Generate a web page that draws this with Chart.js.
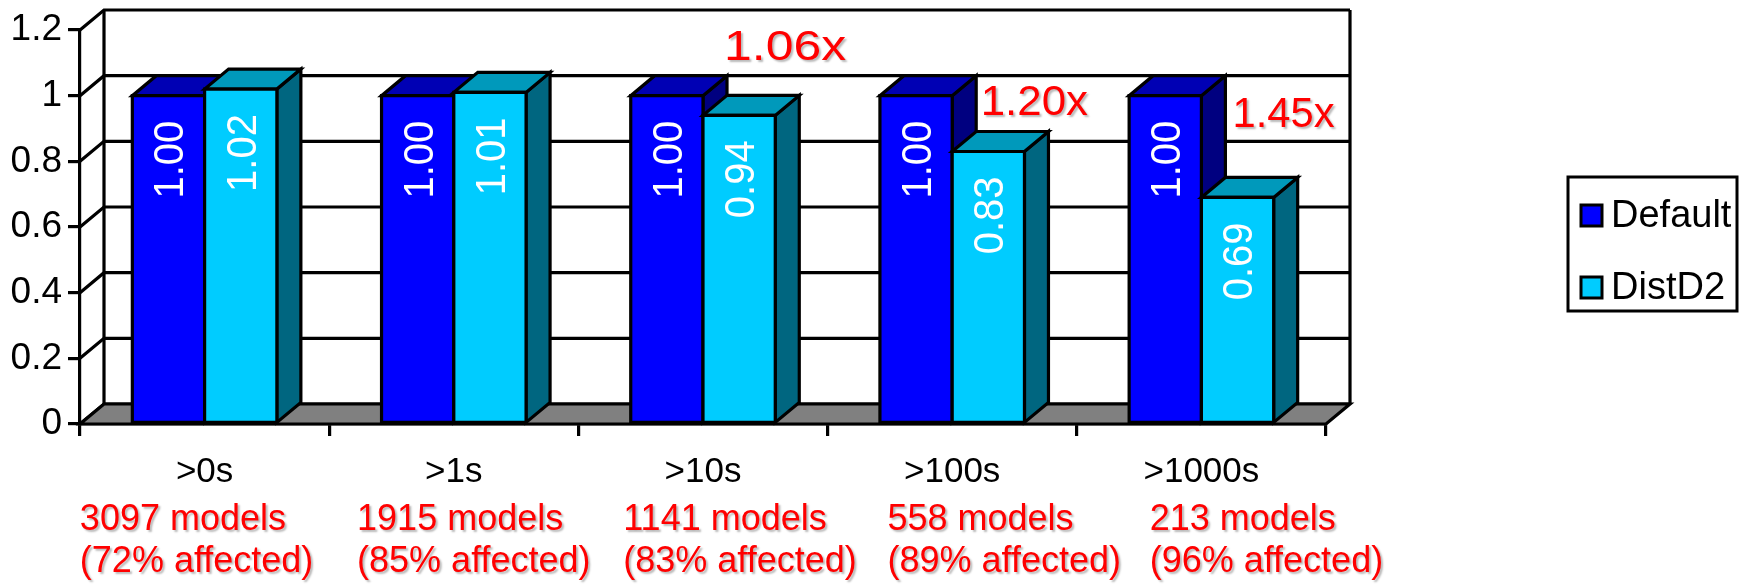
<!DOCTYPE html>
<html>
<head>
<meta charset="utf-8">
<title>DistD2 vs Default</title>
<script src="https://cdn.jsdelivr.net/npm/chart.js@4.4.0/dist/chart.umd.min.js"></script>
<style>
    html, body { margin: 0; padding: 0; background: #fff; }
    #wrap { width: 1743px; height: 585px; }
</style>
</head>
<body>
<div id="wrap"><canvas id="chart" width="1743" height="585"></canvas></div>
<script>
const categories = ['>0s', '>1s', '>10s', '>100s', '>1000s'];
const modelCounts = [3097, 1915, 1141, 558, 213];
const affectedPct = [72, 85, 83, 89, 96];
const defaultTimes = [1.00, 1.00, 1.00, 1.00, 1.00];
const distD2Times = [1.02, 1.01, 0.94, 0.83, 0.69];
const speedupNotes = [null, null, '1.06x', '1.20x', '1.45x'];
const yTicks = [0, 0.2, 0.4, 0.6, 0.8, 1, 1.2];

const FONT = '"Liberation Sans", Arial, sans-serif';
const DX = 24, DY = -20;            // depth offset of the 3d box
const noteLevel = [null, null, 1.108, 0.94, 0.904];   // baseline of the speedup text, in axis units
const noteStretch = [1, 1, 1.16, 1.02, 0.97];
const subShift = [-8, 20, 37, 52, 65];                // nudge of the red text under each group

function face(ctx, pts, fill) {
    ctx.beginPath();
    ctx.moveTo(pts[0][0], pts[0][1]);
    for (let i = 1; i < pts.length; i++) ctx.lineTo(pts[i][0], pts[i][1]);
    ctx.closePath();
    ctx.fillStyle = fill;
    ctx.fill();
    ctx.stroke();
}

function redShadow(ctx) {
    ctx.shadowColor = 'rgba(0,0,0,0.28)';
    ctx.shadowOffsetX = 2;
    ctx.shadowOffsetY = 2;
    ctx.shadowBlur = 2;
}

const box3d = {
    id: 'box3d',
    beforeDatasetsDraw(chart) {
        const ctx = chart.ctx;
        const xs = chart.scales.x, ys = chart.scales.y;
        const l = xs.left, r = xs.right, b = ys.getPixelForValue(0);
        const top = ys.getPixelForValue(ys.max);
        ctx.save();
        ctx.lineWidth = 3.2;
        ctx.strokeStyle = '#000';
        ctx.lineJoin = 'miter';
        // left wall and back wall grid
        ys.ticks.forEach(t => {
            const y = ys.getPixelForValue(t.value);
            ctx.beginPath();
            ctx.moveTo(l, y);
            ctx.lineTo(l + DX, y + DY);
            ctx.lineTo(r + DX, y + DY);
            ctx.stroke();
        });
        ctx.beginPath();
        ctx.moveTo(l + DX, top + DY);
        ctx.lineTo(l + DX, b + DY);
        ctx.moveTo(r + DX, top + DY);
        ctx.lineTo(r + DX, b + DY);
        ctx.stroke();
        // floor
        face(ctx, [[l, b], [r, b], [r + DX, b + DY], [l + DX, b + DY]], '#808080');
        ctx.restore();
    },
    beforeDatasetDraw() {
        return false;
    },
    afterDatasetsDraw(chart) {
        const ctx = chart.ctx;
        const ys = chart.scales.y;
        ctx.save();
        ctx.lineWidth = 3.2;
        ctx.strokeStyle = '#000';
        ctx.lineJoin = 'miter';
        for (let i = 0; i < chart.data.labels.length; i++) {
            chart.data.datasets.forEach((ds, d) => {
                const bar = chart.getDatasetMeta(d).data[i];
                const { x, y, base, width } = bar.getProps(['x', 'y', 'base', 'width'], true);
                const L = x - width / 2, R = x + width / 2;
                face(ctx, [[R, y], [R + DX, y + DY], [R + DX, base + DY], [R, base]], ds.sideColor);
                face(ctx, [[L, y], [R, y], [R + DX, y + DY], [L + DX, y + DY]], ds.topColor);
                face(ctx, [[L, y], [R, y], [R, base], [L, base]], ds.backgroundColor);

                // value written upwards inside the front face
                ctx.save();
                ctx.translate(x + 3, y + 25);
                ctx.rotate(-Math.PI / 2);
                ctx.scale(1, 1.08);
                ctx.fillStyle = '#fff';
                ctx.font = '40px ' + FONT;
                ctx.textAlign = 'right';
                ctx.textBaseline = 'middle';
                ctx.fillText(ds.data[i].toFixed(2), 0, 0);
                ctx.restore();
            });
        }
        // speedup notes over the DistD2 bars
        ctx.font = '43px ' + FONT;
        ctx.fillStyle = '#ff0000';
        ctx.textAlign = 'center';
        ctx.textBaseline = 'alphabetic';
        redShadow(ctx);
        speedupNotes.forEach((note, i) => {
            if (!note) return;
            const bar = chart.getDatasetMeta(1).data[i];
            ctx.save();
            ctx.translate(bar.x + 46, ys.getPixelForValue(noteLevel[i]));
            ctx.scale(noteStretch[i], 1);
            ctx.fillText(note, 0, 0);
            ctx.restore();
        });
        ctx.restore();
    },
    afterDraw(chart) {
        const ctx = chart.ctx;
        const xs = chart.scales.x;
        ctx.save();
        // model counts under each group
        ctx.font = '36px ' + FONT;
        ctx.fillStyle = '#ff0000';
        ctx.textAlign = 'left';
        ctx.textBaseline = 'alphabetic';
        redShadow(ctx);
        categories.forEach((c, i) => {
            const line1 = modelCounts[i] + ' models';
            const line2 = '(' + affectedPct[i] + '% affected)';
            const left = xs.getPixelForValue(i) + subShift[i] - ctx.measureText(line2).width / 2;
            ctx.fillText(line1, left, 530);
            ctx.fillText(line2, left, 572);
        });
        ctx.restore();

        // legend
        ctx.save();
        ctx.lineWidth = 3;
        ctx.strokeStyle = '#000';
        ctx.strokeRect(1568, 177, 169, 134);
        ctx.font = '38px ' + FONT;
        ctx.textBaseline = 'middle';
        chart.data.datasets.forEach((ds, d) => {
            const cy = 216 + d * 72;
            ctx.fillStyle = ds.backgroundColor;
            ctx.fillRect(1581, cy - 11, 21, 21);
            ctx.strokeRect(1581, cy - 11, 21, 21);
            ctx.fillStyle = '#000';
            ctx.fillText(ds.label, 1611, cy + 1);
        });
        ctx.restore();
    }
};

Chart.defaults.font.family = FONT;
Chart.defaults.color = '#000';

new Chart(document.getElementById('chart'), {
    type: 'bar',
    data: {
        labels: categories,
        datasets: [{
            label: 'Default',
            data: defaultTimes,
            backgroundColor: '#0000ff',
            topColor: '#0000b4',
            sideColor: '#000080'
        }, {
            label: 'DistD2',
            data: distD2Times,
            backgroundColor: '#00ccff',
            topColor: '#0099bb',
            sideColor: '#006680'
        }]
    },
    options: {
        responsive: false,
        animation: false,
        events: [],
        devicePixelRatio: 1,
        categoryPercentage: 0.58,
        barPercentage: 1.0,
        layout: {
            padding: { top: 30, right: 417, left: 0, bottom: 0 }
        },
        plugins: {
            legend: { display: false },
            tooltip: { enabled: false }
        },
        scales: {
            x: {
                offset: true,
                grid: {
                    offset: true,
                    drawOnChartArea: false,
                    drawTicks: true,
                    tickLength: 12,
                    color: '#000',
                    lineWidth: 3.2
                },
                border: { display: true, color: '#000', width: 3.2 },
                ticks: {
                    font: { size: 35 },
                    color: '#000',
                    padding: 15,
                    maxRotation: 0,
                    autoSkip: false
                },
                afterFit(scale) {
                    scale.height = 161;
                }
            },
            y: {
                min: 0,
                max: 1.2,
                afterBuildTicks(scale) {
                    scale.ticks = yTicks.map(v => ({ value: v }));
                },
                grid: {
                    drawOnChartArea: false,
                    drawTicks: true,
                    tickLength: 12,
                    color: '#000',
                    lineWidth: 3.2
                },
                border: { display: true, color: '#000', width: 3.2 },
                ticks: {
                    font: { size: 37 },
                    color: '#000',
                    padding: 6,
                    callback: v => String(v)
                },
                afterFit(scale) {
                    scale.width = 80;
                }
            }
        }
    },
    plugins: [box3d]
});
</script>
</body>
</html>
